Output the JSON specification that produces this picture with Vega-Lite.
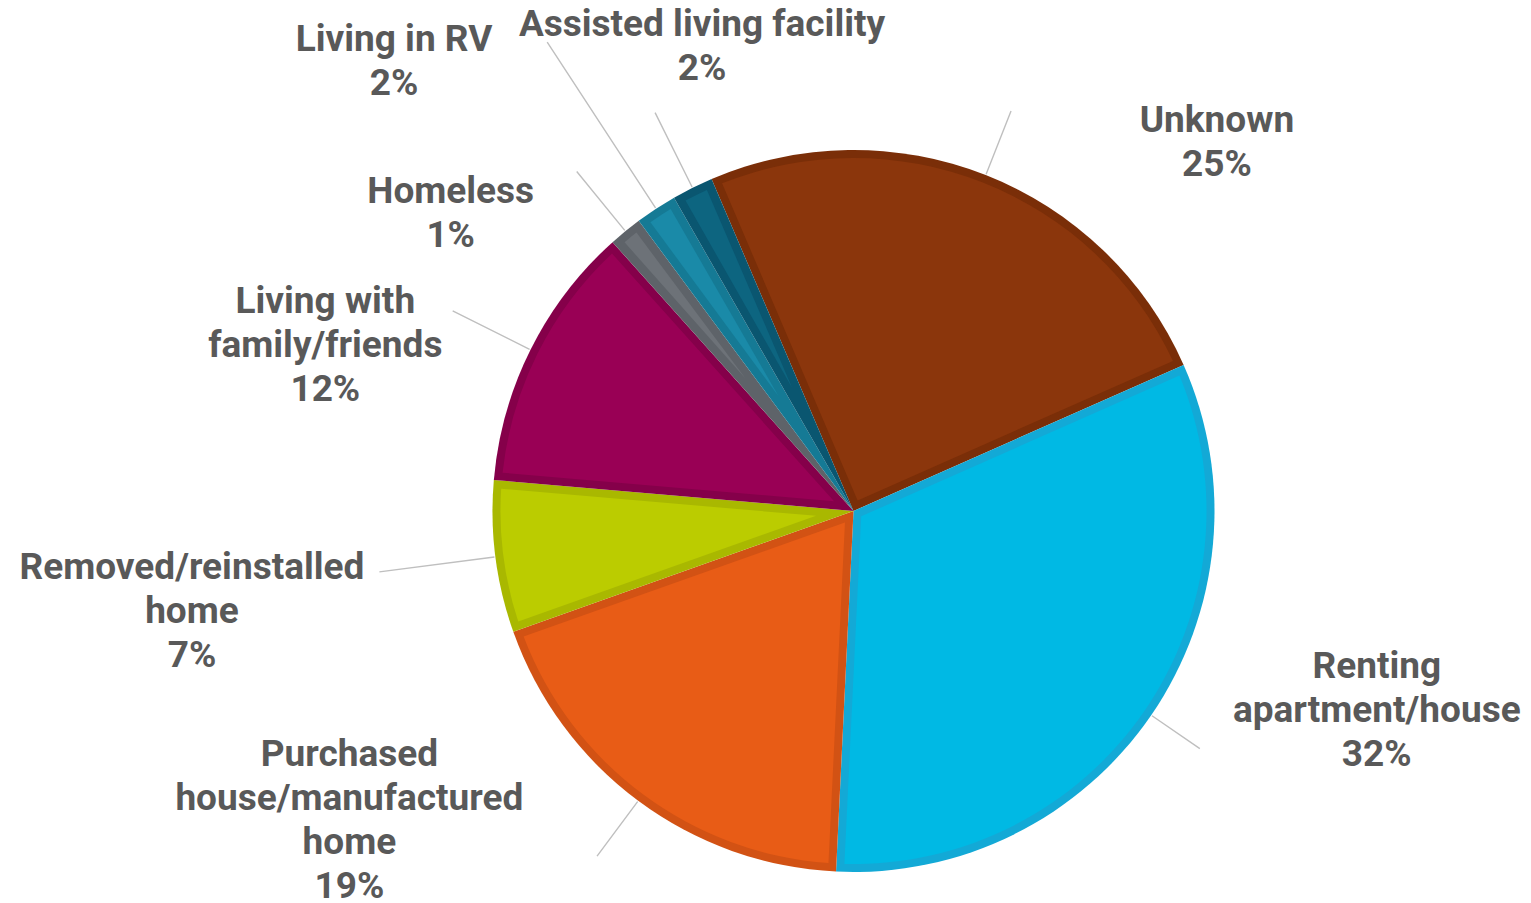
{
  "$schema": "https://vega.github.io/schema/vega-lite/v6.json",
  "description": "Housing situation pie chart with outside labels.",
  "width": 1355,
  "height": 784,
  "autosize": {"type": "none"},
  "padding": {"left": 176, "top": 119, "right": 0, "bottom": 0},
  "background": "white",
  "config": {"view": {"stroke": null}, "font": "Roboto"},
  "data": {
    "values": [
      {"name": "Unknown", "label": "Unknown", "pct": 24.8},
      {"name": "Renting", "label": "Renting|apartment/house", "pct": 32.4},
      {"name": "Purchased", "label": "Purchased|house/manufactured|home", "pct": 18.8},
      {"name": "Removed", "label": "Removed/reinstalled|home", "pct": 6.8},
      {"name": "Family", "label": "Living with|family/friends", "pct": 12.0},
      {"name": "Homeless", "label": "Homeless", "pct": 1.49},
      {"name": "RV", "label": "Living in RV", "pct": 1.86},
      {"name": "Assisted", "label": "Assisted living facility", "pct": 1.85}
    ]
  },
  "transform": [
    {"window": [{"op": "sum", "field": "pct", "as": "end"}], "frame": [null, 0]},
    {"calculate": "datum.end - datum.pct", "as": "start"},
    {"calculate": "datum.end - datum.pct / 2", "as": "mid"},
    {"calculate": "min(340, 8 / sin(datum.pct * PI / 100))", "as": "apex"},
    {"calculate": "datum.label + '|' + format(datum.pct, '.0f') + '%'", "as": "text"}
  ],
  "layer": [
    {
      "mark": {"type": "arc", "radius": 361},
      "encoding": {
        "theta": {"field": "start", "type": "quantitative", "scale": {"domain": [0, 100], "range": [-0.40404, 5.87914]}},
        "theta2": {"field": "end"},
        "fill": {
          "field": "name", "type": "nominal", "legend": null,
          "scale": {
            "domain": ["Unknown", "Renting", "Purchased", "Removed", "Family", "Homeless", "RV", "Assisted"],
            "range": ["#7a2e08", "#13a9d6", "#d25214", "#a9b800", "#85004a", "#5e6369", "#157a95", "#0a5670"]
          }
        }
      }
    },
    {
      "mark": {"type": "arc", "padAngle": 0.0452, "radius2": 353},
      "encoding": {
        "theta": {"field": "start", "type": "quantitative", "scale": {"domain": [0, 100], "range": [-0.40404, 5.87914]}},
        "theta2": {"field": "end"},
        "radius": {"field": "apex", "type": "quantitative", "scale": {"type": "linear", "domain": [0, 361], "range": [0, 361]}},
        "color": {
          "field": "name", "type": "nominal", "legend": null,
          "scale": {
            "domain": ["Unknown", "Renting", "Purchased", "Removed", "Family", "Homeless", "RV", "Assisted"],
            "range": ["#8b360c", "#00b9e4", "#e85c16", "#bbcc00", "#990055", "#6d7278", "#1a8aa8", "#0d6580"]
          }
        }
      }
    },
    {
      "transform": [{"filter": "datum.name === 'Unknown'"}],
      "layer": [
        {"mark": {"type": "arc", "radius": 430, "radius2": 362, "filled": false, "stroke": "#bfbfbf", "strokeWidth": 1.4},
         "encoding": {"theta": {"field": "mid", "type": "quantitative"}, "theta2": {"field": "mid"}}},
        {"mark": {"type": "text", "radius": 533, "thetaOffset": 0.3752, "lineBreak": "|", "lineHeight": 44, "fontSize": 37, "fontWeight": "bold", "color": "#595959", "align": "center", "baseline": "middle"},
         "encoding": {"theta": {"field": "mid", "type": "quantitative"}, "text": {"field": "text"}}}
      ]
    },
    {
      "transform": [{"filter": "datum.name === 'Renting'"}],
      "layer": [
        {"mark": {"type": "arc", "radius": 420, "radius2": 362, "filled": false, "stroke": "#bfbfbf", "strokeWidth": 1.4},
         "encoding": {"theta": {"field": "mid", "type": "quantitative"}, "theta2": {"field": "mid"}}},
        {"mark": {"type": "text", "radius": 546, "thetaOffset": -0.3117, "lineBreak": "|", "lineHeight": 44, "fontSize": 37, "fontWeight": "bold", "color": "#595959", "align": "center", "baseline": "middle"},
         "encoding": {"theta": {"field": "mid", "type": "quantitative"}, "text": {"field": "text"}}}
      ]
    },
    {
      "transform": [{"filter": "datum.name === 'Purchased'"}],
      "layer": [
        {"mark": {"type": "arc", "radius": 430, "radius2": 362, "filled": false, "stroke": "#bfbfbf", "strokeWidth": 1.4},
         "encoding": {"theta": {"field": "mid", "type": "quantitative"}, "theta2": {"field": "mid"}}},
        {"mark": {"type": "text", "radius": 560, "thetaOffset": 0.4814, "lineBreak": "|", "lineHeight": 44, "fontSize": 37, "fontWeight": "bold", "color": "#595959", "align": "center", "baseline": "middle"},
         "encoding": {"theta": {"field": "mid", "type": "quantitative"}, "text": {"field": "text"}}}
      ]
    },
    {
      "transform": [{"filter": "datum.name === 'Removed'"}],
      "layer": [
        {"mark": {"type": "arc", "radius": 478, "radius2": 362, "filled": false, "stroke": "#bfbfbf", "strokeWidth": 1.4},
         "encoding": {"theta": {"field": "mid", "type": "quantitative"}, "theta2": {"field": "mid"}}},
        {"mark": {"type": "text", "radius": 664, "thetaOffset": 0.0417, "lineBreak": "|", "lineHeight": 44, "fontSize": 37, "fontWeight": "bold", "color": "#595959", "align": "center", "baseline": "middle"},
         "encoding": {"theta": {"field": "mid", "type": "quantitative"}, "text": {"field": "text"}}}
      ]
    },
    {
      "transform": [{"filter": "datum.name === 'Family'"}],
      "layer": [
        {"mark": {"type": "arc", "radius": 448, "radius2": 362, "filled": false, "stroke": "#bfbfbf", "strokeWidth": 1.4},
         "encoding": {"theta": {"field": "mid", "type": "quantitative"}, "theta2": {"field": "mid"}}},
        {"mark": {"type": "text", "radius": 568, "thetaOffset": -0.0864, "lineBreak": "|", "lineHeight": 44, "fontSize": 37, "fontWeight": "bold", "color": "#595959", "align": "center", "baseline": "middle"},
         "encoding": {"theta": {"field": "mid", "type": "quantitative"}, "text": {"field": "text"}}}
      ]
    },
    {
      "transform": [{"filter": "datum.name === 'Homeless'"}],
      "layer": [
        {"mark": {"type": "arc", "radius": 438, "radius2": 362, "filled": false, "stroke": "#bfbfbf", "strokeWidth": 1.4},
         "encoding": {"theta": {"field": "mid", "type": "quantitative"}, "theta2": {"field": "mid"}}},
        {"mark": {"type": "text", "radius": 514, "thetaOffset": -0.2166, "lineBreak": "|", "lineHeight": 44, "fontSize": 37, "fontWeight": "bold", "color": "#595959", "align": "center", "baseline": "middle"},
         "encoding": {"theta": {"field": "mid", "type": "quantitative"}, "text": {"field": "text"}}}
      ]
    },
    {
      "transform": [{"filter": "datum.name === 'RV'"}],
      "layer": [
        {"mark": {"type": "arc", "radius": 560, "radius2": 362, "filled": false, "stroke": "#bfbfbf", "strokeWidth": 1.4},
         "encoding": {"theta": {"field": "mid", "type": "quantitative"}, "theta2": {"field": "mid"}}},
        {"mark": {"type": "text", "radius": 658, "thetaOffset": -0.1943, "lineBreak": "|", "lineHeight": 44, "fontSize": 37, "fontWeight": "bold", "color": "#595959", "align": "center", "baseline": "middle"},
         "encoding": {"theta": {"field": "mid", "type": "quantitative"}, "text": {"field": "text"}}}
      ]
    },
    {
      "transform": [{"filter": "datum.name === 'Assisted'"}],
      "layer": [
        {"mark": {"type": "arc", "radius": 445, "radius2": 362, "filled": false, "stroke": "#bfbfbf", "strokeWidth": 1.4},
         "encoding": {"theta": {"field": "mid", "type": "quantitative"}, "theta2": {"field": "mid"}}},
        {"mark": {"type": "text", "radius": 509, "thetaOffset": 0.16, "lineBreak": "|", "lineHeight": 44, "fontSize": 37, "fontWeight": "bold", "color": "#595959", "align": "center", "baseline": "middle"},
         "encoding": {"theta": {"field": "mid", "type": "quantitative"}, "text": {"field": "text"}}}
      ]
    }
  ]
}
